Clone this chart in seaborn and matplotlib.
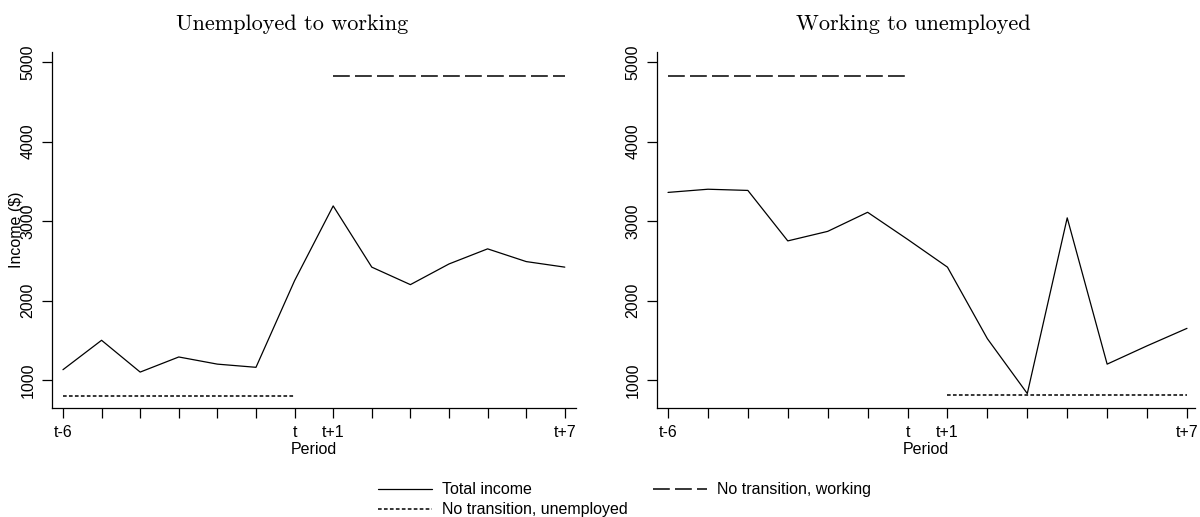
import matplotlib
matplotlib.use("Agg")
import matplotlib.pyplot as plt
from matplotlib.lines import Line2D
import seaborn as sns
import pandas as pd

sns.set_style("ticks")
plt.rcParams['font.family'] = ['Liberation Sans', 'DejaVu Sans']
plt.rcParams['text.color'] = 'black'
plt.rcParams['xtick.color'] = 'black'
plt.rcParams['ytick.color'] = 'black'
plt.rcParams['axes.labelcolor'] = 'black'

# Data: income in dollars by period
periods = ['t-6', 't-5', 't-4', 't-3', 't-2', 't-1', 't',
           't+1', 't+2', 't+3', 't+4', 't+5', 't+6', 't+7']
shown_labels = ['t-6', 't', 't+1', 't+7']

# Unemployed to working
uw_total = [1130, 1500, 1100, 1290, 1200, 1160, 2250,
            3190, 2420, 2200, 2460, 2650, 2490, 2420]
uw_unemp_periods = ['t-6', 't-5', 't-4', 't-3', 't-2', 't-1', 't']
uw_unemp = [800, 800, 800, 800, 800, 800, 800]
uw_work_periods = ['t+1', 't+2', 't+3', 't+4', 't+5', 't+6', 't+7']
uw_work = [4820, 4820, 4820, 4820, 4820, 4820, 4820]

# Working to unemployed
wu_total = [3360, 3400, 3385, 2750, 2870, 3110, 2770,
            2420, 1520, 830, 3040, 1200, 1430, 1650]
wu_work_periods = ['t-6', 't-5', 't-4', 't-3', 't-2', 't-1', 't']
wu_work = [4820, 4820, 4820, 4820, 4820, 4820, 4820]
wu_unemp_periods = ['t+1', 't+2', 't+3', 't+4', 't+5', 't+6', 't+7']
wu_unemp = [810, 810, 810, 810, 810, 810, 810]

yticks = [1000, 2000, 3000, 4000, 5000]

DOTTED = (0, (2.4, 1.5))
DASHED = (0, (11, 3.4))
title_font = dict(family='cmr10', fontsize=16)


def idx(labels):
    return [periods.index(p) for p in labels]


def draw_panel(ax, title, title_x, total, work_p, work, unemp_p, unemp):
    df = pd.DataFrame({'x': range(len(periods)), 'y': total})
    sns.lineplot(data=df, x='x', y='y', ax=ax, color='black', lw=0.9)
    sns.lineplot(x=idx(work_p), y=work, ax=ax, color='black', lw=1.1, linestyle=DASHED)
    sns.lineplot(x=idx(unemp_p), y=unemp, ax=ax, color='black', lw=1.1, linestyle=DOTTED)

    ax.set_ylim(648, 5126)
    ax.set_yticks(yticks)
    ax.set_yticklabels([str(v) for v in yticks], rotation=90, va='center', fontsize=11.5)
    ax.set_xticks(range(len(periods)))
    ax.set_xticklabels([p if p in shown_labels else '' for p in periods], fontsize=11.5)
    ax.tick_params(direction='out', length=7, width=0.9, color='black', pad=5)
    ax.set_xlabel('Period', fontsize=11.5, labelpad=1.5)
    ax.set_ylabel('')
    ax.set_title(title, pad=16, x=title_x, **title_font)
    for s in ['top', 'right']:
        ax.spines[s].set_visible(False)
    for s in ['left', 'bottom']:
        ax.spines[s].set_linewidth(0.9)
        ax.spines[s].set_color('black')


fig = plt.figure(figsize=(12, 5.17), dpi=100)
ax1 = fig.add_axes([0.0433, 0.2108, 0.4367, 0.6886])
ax2 = fig.add_axes([0.5475, 0.2108, 0.4483, 0.6886])

draw_panel(ax1, 'Unemployed to working', 0.458, uw_total,
           uw_work_periods, uw_work, uw_unemp_periods, uw_unemp)
draw_panel(ax2, 'Working to unemployed', 0.476, wu_total,
           wu_work_periods, wu_work, wu_unemp_periods, wu_unemp)
ax1.set_xlim(-0.285, 13.29)
ax2.set_xlim(-0.276, 13.2)
ax1.set_ylabel('Income ($)', fontsize=11.5, labelpad=-3)

handles = [
    Line2D([], [], color='black', lw=0.9),
    Line2D([], [], color='black', lw=1.1, linestyle=DOTTED),
    Line2D([], [], color='black', lw=1.1, linestyle=DASHED),
]
labels = ['Total income', 'No transition, unemployed', 'No transition, working']
fig.legend(handles, labels, ncol=2, loc='lower left', bbox_to_anchor=(0.303, -0.028),
           frameon=False, fontsize=11.5, handlelength=3.4, handletextpad=0.6,
           columnspacing=1.6, labelspacing=0.3)

fig.savefig('out.png', dpi=100)
